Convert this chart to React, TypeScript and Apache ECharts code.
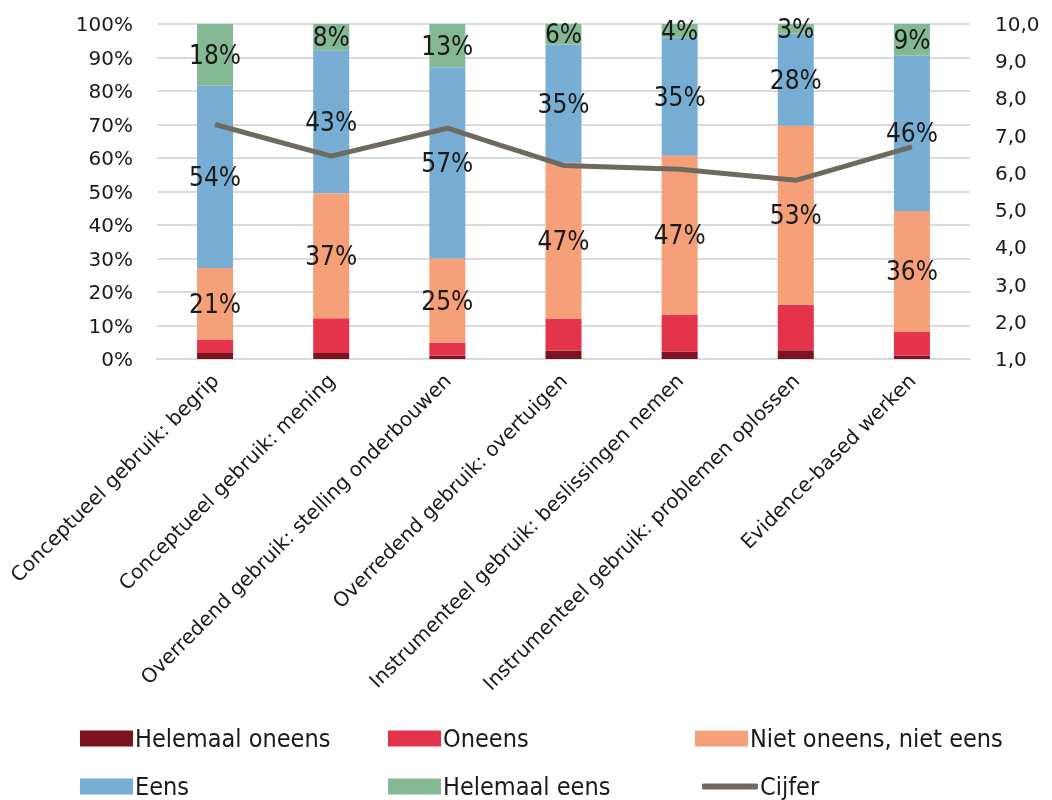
import React, { useEffect, useRef } from "react";
import * as echarts from "echarts";

const categories = [
  "Conceptueel gebruik: begrip",
  "Conceptueel gebruik: mening",
  "Overredend gebruik: stelling onderbouwen",
  "Overredend gebruik: overtuigen",
  "Instrumenteel gebruik: beslissingen nemen",
  "Instrumenteel gebruik: problemen oplossen",
  "Evidence-based werken",
];

const helemaalOneens = [1.8, 1.8, 1.0, 2.5, 2.2, 2.6, 1.0];
const oneens = [4.0, 10.4, 3.9, 9.6, 11.1, 13.6, 7.2];
const nietOneensNietEens = [21.4, 37.3, 25.1, 46.5, 47.4, 53.4, 36.0];
const eens = [54.4, 42.7, 57.1, 35.3, 35.2, 27.6, 46.4];
const helemaalEens = [18.4, 7.8, 12.9, 6.1, 4.1, 2.8, 9.4];
const cijfer = [7.3, 6.45, 7.2, 6.2, 6.1, 5.8, 6.7];

const AXIS_FONT = "DejaVu Sans";
const NARROW_FONT = "'Liberation Sans Narrow', 'DejaVu Sans Condensed', sans-serif";

export default function App() {
  const ref = useRef<HTMLDivElement>(null);
  useEffect(() => {
    const chart = echarts.init(ref.current!, null, { renderer: "svg" });
    const barLabel = {
      show: true,
      position: "inside",
      color: "#1a1a1a",
      fontSize: 26,
      fontFamily: NARROW_FONT,
      formatter: (p: any) => Math.round(p.value) + "%",
    };
    const mkBar = (name: string, data: number[], color: string, label: boolean) => ({
      name,
      type: "bar",
      stack: "total",
      data,
      barWidth: 36,
      itemStyle: { color },
      label: label ? barLabel : { show: false },
    });
    const legendItem = (name: string, left: number, top: number, extra: any = {}) => ({
      data: [name],
      left,
      top,
      icon: "rect",
      itemWidth: 53,
      itemHeight: 16,
      itemGap: 0,
      selectedMode: false,
      textStyle: {
        fontSize: 25,
        fontFamily: NARROW_FONT,
        color: "#1a1a1a",
        padding: [0, 0, 0, -3],
      },
      ...extra,
    });
    chart.setOption({
      animation: false,
      grid: { left: 157, right: 82, top: 24, bottom: 441 },
      legend: [
        legendItem("Helemaal oneens", 75, 721),
        legendItem("Oneens", 383, 721),
        legendItem("Niet oneens, niet eens", 690, 721),
        legendItem("Eens", 75, 769),
        legendItem("Helemaal eens", 383, 769),
        legendItem("Cijfer", 697, 769, {
          itemWidth: 56,
          itemHeight: 6,
          icon: "roundRect",
        }),
      ],
      xAxis: {
        type: "category",
        data: categories,
        axisLine: { show: true, lineStyle: { color: "#d9dadd", width: 2 } },
        axisTick: { show: false },
        axisLabel: {
          rotate: 45,
          interval: 0,
          fontSize: 20,
          fontFamily: AXIS_FONT,
          color: "#1a1a1a",
          margin: 18,
        },
      },
      yAxis: [
        {
          type: "value",
          min: 0,
          max: 100,
          interval: 10,
          axisLine: { show: false },
          axisTick: { show: false },
          splitLine: { lineStyle: { color: "#d9dadd", width: 2 } },
          axisLabel: {
            formatter: (v: number) => v + "%",
            fontSize: 20,
            fontFamily: AXIS_FONT,
            color: "#1a1a1a",
            margin: 24,
          },
        },
        {
          type: "value",
          min: 1,
          max: 10,
          interval: 1,
          axisLine: { show: false },
          axisTick: { show: false },
          splitLine: { show: false },
          axisLabel: {
            formatter: (v: number) => v.toFixed(1).replace(".", ","),
            fontSize: 20,
            fontFamily: AXIS_FONT,
            color: "#1a1a1a",
            margin: 25,
            align: "left",
          },
        },
      ],
      series: [
        mkBar("Helemaal oneens", helemaalOneens, "#7d1221", false),
        mkBar("Oneens", oneens, "#e4344c", false),
        mkBar("Niet oneens, niet eens", nietOneensNietEens, "#f6a07a", true),
        mkBar("Eens", eens, "#79aed4", true),
        mkBar("Helemaal eens", helemaalEens, "#85b993", true),
        {
          name: "Cijfer",
          type: "line",
          yAxisIndex: 1,
          data: cijfer,
          symbol: "none",
          z: 3,
          lineStyle: { color: "#6e6a5f", width: 5 },
          itemStyle: { color: "#6e6a5f" },
        },
      ],
    });
    return () => chart.dispose();
  }, []);
  return (
    <div
      ref={ref}
      style={{ position: "fixed", left: 0, top: 0, width: 1052, height: 800 }}
    />
  );
}
